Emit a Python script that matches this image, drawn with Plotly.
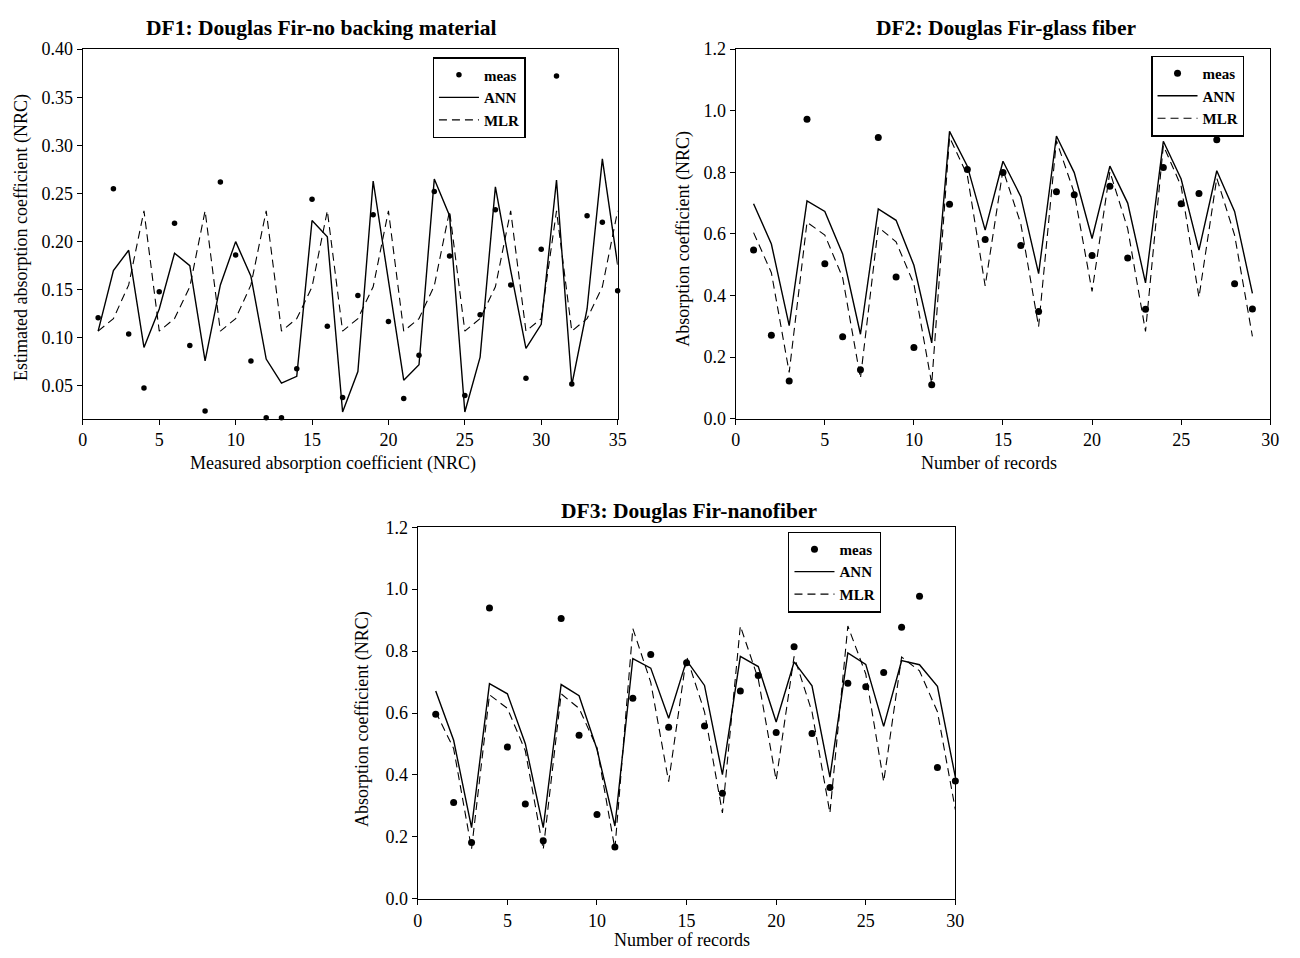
import plotly.graph_objects as go

W, H = 1300, 958

# ---- DF1: Douglas Fir, no backing material ----
df1_x = list(range(1, 36))
df1_meas = [0.121, 0.255, 0.104, 0.048, 0.148, 0.219, 0.092, 0.024, 0.262, 0.186,
            0.076, 0.017, 0.017, 0.068, 0.244, 0.112, 0.038, 0.144, 0.228, 0.117,
            0.037, 0.082, 0.252, 0.185, 0.040, 0.124, 0.233, 0.155, 0.058, 0.192,
            0.372, 0.052, 0.227, 0.220, 0.149]
df1_ann = [0.107, 0.170, 0.191, 0.090, 0.130, 0.188, 0.175, 0.076, 0.155, 0.200,
           0.164, 0.078, 0.053, 0.060, 0.222, 0.205, 0.023, 0.065, 0.263, 0.160,
           0.056, 0.072, 0.265, 0.227, 0.023, 0.080, 0.257, 0.170, 0.089, 0.114,
           0.264, 0.051, 0.130, 0.286, 0.176]
df1_mlr = [0.107, 0.120, 0.155, 0.232, 0.107, 0.120, 0.153, 0.232, 0.107, 0.120,
           0.155, 0.232, 0.107, 0.120, 0.153, 0.232, 0.107, 0.120, 0.153, 0.232,
           0.107, 0.120, 0.154, 0.232, 0.107, 0.120, 0.153, 0.232, 0.107, 0.120,
           0.232, 0.107, 0.120, 0.153, 0.232]

# ---- DF2: Douglas Fir, glass fiber ----
df2_x = list(range(1, 30))
df2_meas = [0.548, 0.271, 0.122, 0.972, 0.503, 0.266, 0.159, 0.913, 0.460, 0.231,
            0.110, 0.696, 0.809, 0.582, 0.799, 0.562, 0.348, 0.737, 0.727, 0.530,
            0.755, 0.522, 0.355, 0.816, 0.698, 0.731, 0.906, 0.438, 0.356]
df2_ann = [0.698, 0.567, 0.302, 0.707, 0.673, 0.535, 0.274, 0.681, 0.644, 0.498,
           0.246, 0.933, 0.820, 0.612, 0.836, 0.721, 0.471, 0.918, 0.799, 0.585,
           0.820, 0.700, 0.441, 0.901, 0.778, 0.547, 0.805, 0.673, 0.407]
df2_mlr = [0.604, 0.474, 0.150, 0.638, 0.596, 0.458, 0.131, 0.622, 0.574, 0.437,
           0.113, 0.914, 0.790, 0.431, 0.808, 0.633, 0.299, 0.903, 0.733, 0.413,
           0.802, 0.617, 0.283, 0.887, 0.755, 0.394, 0.781, 0.596, 0.267]

# ---- DF3: Douglas Fir, nanofiber ----
df3_x = list(range(1, 31))
df3_meas = [0.596, 0.311, 0.182, 0.939, 0.490, 0.306, 0.187, 0.905, 0.528, 0.272,
            0.167, 0.648, 0.789, 0.554, 0.762, 0.558, 0.341, 0.671, 0.721, 0.537,
            0.814, 0.534, 0.359, 0.696, 0.685, 0.731, 0.877, 0.977, 0.424, 0.380]
df3_ann = [0.671, 0.512, 0.230, 0.695, 0.662, 0.501, 0.230, 0.692, 0.656, 0.483,
           0.235, 0.776, 0.745, 0.583, 0.770, 0.689, 0.401, 0.783, 0.750, 0.571,
           0.765, 0.688, 0.393, 0.794, 0.757, 0.557, 0.769, 0.756, 0.686, 0.393]
df3_mlr = [0.604, 0.485, 0.161, 0.659, 0.615, 0.478, 0.159, 0.662, 0.615, 0.488,
           0.161, 0.873, 0.699, 0.378, 0.783, 0.604, 0.277, 0.881, 0.710, 0.383,
           0.783, 0.604, 0.277, 0.881, 0.726, 0.378, 0.781, 0.736, 0.604, 0.288]

titles = ["DF1: Douglas Fir-no backing material",
          "DF2: Douglas Fir-glass fiber",
          "DF3: Douglas Fir-nanofiber"]
x_titles = ["Measured absorption coefficient (NRC)", "Number of records", "Number of records"]
y_titles = ["Estimated absorption coefficient (NRC)", "Absorption coefficient (NRC)",
            "Absorption coefficient (NRC)"]
series_names = ["meas", "ANN", "MLR"]

SERIF = "Liberation Serif, Times New Roman, serif"


def px(x):
    return x / W


def py(y):
    return 1 - y / H


# plot-area boxes in pixels: (left, right, top, bottom)
boxes = [(78.7, 619.3, 40.0, 417.3),
         (738.7, 1279.0, 40.0, 417.3),
         (417.3, 960.7, 528.3, 907.7)]

fig = go.Figure()

panels = [
    (df1_x, df1_meas, df1_ann, df1_mlr, 5.5),
    (df2_x, df2_meas, df2_ann, df2_mlr, 7),
    (df3_x, df3_meas, df3_ann, df3_mlr, 7),
]
legend_ids = ["legend", "legend2", "legend3"]

for i, (xs, meas, ann, mlr, msize) in enumerate(panels):
    xa = "x" if i == 0 else f"x{i + 1}"
    ya = "y" if i == 0 else f"y{i + 1}"
    lg = legend_ids[i]
    fig.add_trace(go.Scatter(x=xs, y=meas, mode="markers", name=series_names[0],
                             marker=dict(color="black", size=msize),
                             xaxis=xa, yaxis=ya, legend=lg, cliponaxis=False))
    fig.add_trace(go.Scatter(x=xs, y=ann, mode="lines", name=series_names[1],
                             line=dict(color="black", width=1.4),
                             xaxis=xa, yaxis=ya, legend=lg))
    fig.add_trace(go.Scatter(x=xs, y=mlr, mode="lines", name=series_names[2],
                             line=dict(color="black", width=1.1, dash="8px,5px"),
                             xaxis=xa, yaxis=ya, legend=lg))

axis_common = dict(showgrid=False, zeroline=False, showline=True, linecolor="black",
                   linewidth=1.3, mirror=True, ticks="outside", ticklen=5, tickwidth=1.3,
                   tickcolor="black",
                   tickfont=dict(family=SERIF, size=18, color="black"))

x_ranges = [[0, 35], [0, 30], [0, 30]]
y_ranges = [[0.0161, 0.40], [0, 1.2], [0, 1.2]]
y_ticks = [[0.05, 0.10, 0.15, 0.20, 0.25, 0.30, 0.35, 0.40],
           [0.0, 0.2, 0.4, 0.6, 0.8, 1.0, 1.2],
           [0.0, 0.2, 0.4, 0.6, 0.8, 1.0, 1.2]]
y_fmt = [".2f", ".1f", ".1f"]

layout = dict(width=W, height=H, margin=dict(l=0, r=0, t=0, b=0),
              paper_bgcolor="white", plot_bgcolor="white", showlegend=True)

for i, (l, r, t, b) in enumerate(boxes):
    xk = "xaxis" if i == 0 else f"xaxis{i + 1}"
    yk = "yaxis" if i == 0 else f"yaxis{i + 1}"
    ya = "y" if i == 0 else f"y{i + 1}"
    xa = "x" if i == 0 else f"x{i + 1}"
    layout[xk] = dict(axis_common, domain=[px(l), px(r)], range=x_ranges[i],
                      tickvals=list(range(0, x_ranges[i][1] + 1, 5)), anchor=ya)
    layout[yk] = dict(axis_common, domain=[py(b), py(t)], range=y_ranges[i],
                      tickvals=y_ticks[i], tickformat=y_fmt[i], anchor=xa)

legend_style = dict(bgcolor="white", bordercolor="black", borderwidth=1.3,
                    font=dict(family=SERIF, size=15, color="black", weight="bold"),
                    xanchor="left", yanchor="top", itemwidth=40,
                    tracegroupgap=0, entrywidth=60)
legend_pos = [(432.3, 48.3), (1158.7, 46.7), (791.7, 532.7)]
for i, (lx, ly) in enumerate(legend_pos):
    layout[legend_ids[i]] = dict(legend_style, x=px(lx), y=py(ly))

annotations = []
# panel titles
title_pos = [(319, 18), (1012, 18), (691, 512)]
for txt, (tx, ty) in zip(titles, title_pos):
    annotations.append(dict(text=f"<b>{txt}</b>", x=px(tx), y=py(ty), xref="paper",
                            yref="paper", showarrow=False, xanchor="center",
                            yanchor="middle",
                            font=dict(family=SERIF, size=21.5, color="black")))
# axis titles
xt_pos = [(332, 463), (995, 463), (684, 950)]
for txt, (tx, ty) in zip(x_titles, xt_pos):
    annotations.append(dict(text=txt, x=px(tx), y=py(ty), xref="paper", yref="paper",
                            showarrow=False, xanchor="center", yanchor="middle",
                            font=dict(family=SERIF, size=18, color="black")))
yt_pos = [(16, 232), (686, 234), (362, 724)]
for txt, (tx, ty) in zip(y_titles, yt_pos):
    annotations.append(dict(text=txt, x=px(tx), y=py(ty), xref="paper", yref="paper",
                            showarrow=False, xanchor="center", yanchor="middle",
                            textangle=-90,
                            font=dict(family=SERIF, size=18, color="black")))
layout["annotations"] = annotations

fig.update_layout(**layout)
fig.write_html("out.html")
